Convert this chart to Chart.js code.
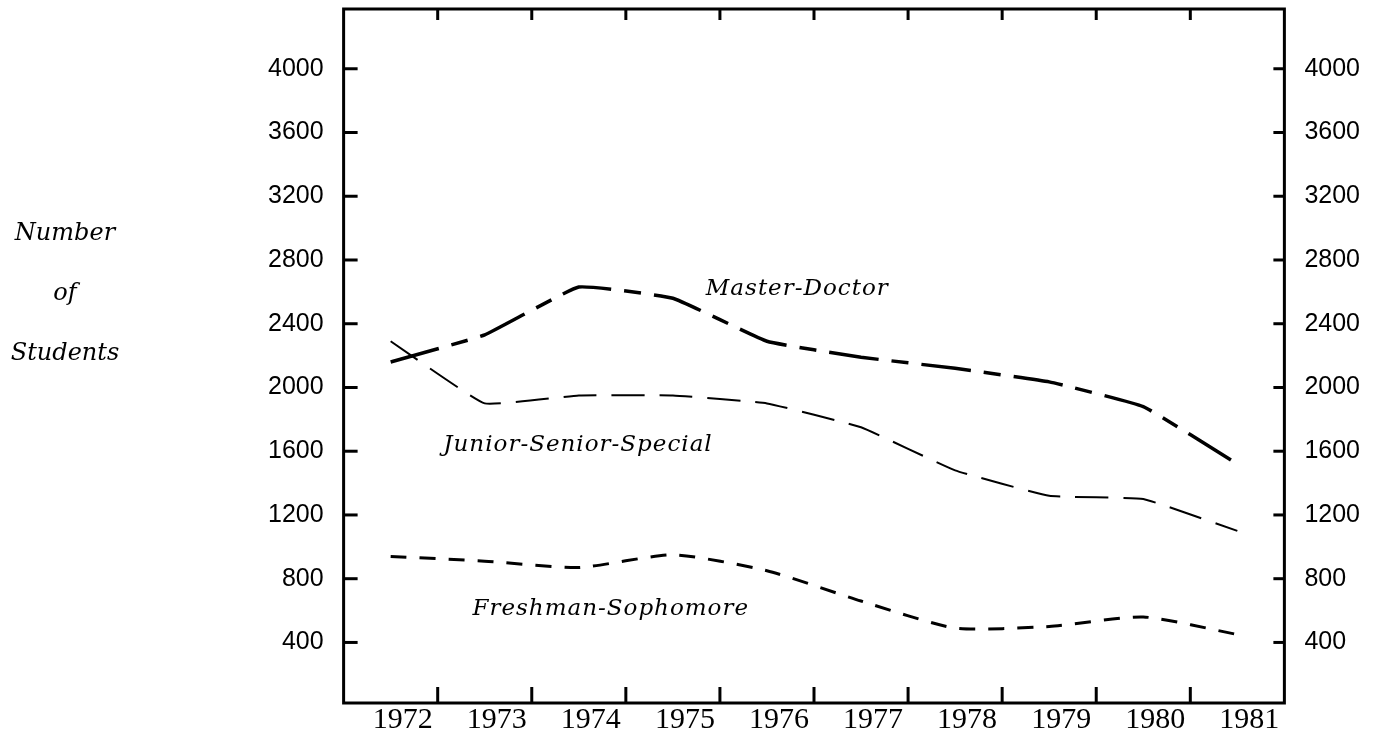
<!DOCTYPE html>
<html>
<head>
<meta charset="utf-8">
<script src="https://cdn.jsdelivr.net/npm/chart.js@4"></script>
<style>
  body { margin: 0; background: white; }
  #zone { width: 1390px; height: 733px; }
</style>
</head>
<body>
<div id="zone"><canvas id="myChart"></canvas></div>
<script>
// données
const years = ["1972", "1973", "1974", "1975", "1976", "1977", "1978", "1979", "1980", "1981"];
const masterDoctor = [2160, 2330, 2630, 2560, 2290, 2190, 2120, 2035, 1880, 1520];
const juniorSenior = [2290, 1900, 1950, 1950, 1900, 1750, 1480, 1320, 1300, 1100];
const freshman = [940, 910, 870, 950, 850, 660, 490, 500, 560, 450];
const yTicks = [400, 800, 1200, 1600, 2000, 2400, 2800, 3200, 3600, 4000];

// étiquettes posées dans le graphique : [texte, position x (index), valeur y]
const seriesLabels = [
  ["Master-Doctor", 3.35, 2620],
  ["Junior-Senior-Special", 0.56, 1640],
  ["Freshman-Sophomore", 0.87, 610],
];
const axisTitle = ["Number", "of", "Students"];

// cadre + petits traits vers l'intérieur
const cadre = {
  id: "cadre",
  afterDraw(chart) {
    const ctx = chart.ctx;
    const a = chart.chartArea;
    const sx = chart.scales.x;
    const sy = chart.scales.y;
    ctx.save();
    ctx.strokeStyle = "black";
    ctx.lineWidth = 3;
    ctx.strokeRect(a.left, a.top, a.width, a.height);

    function trait(x1, y1, x2, y2) {
      ctx.beginPath();
      ctx.moveTo(x1, y1);
      ctx.lineTo(x2, y2);
      ctx.stroke();
    }
    for (let i = 0; i < years.length - 1; i++) {
      const px = (sx.getPixelForValue(i) + sx.getPixelForValue(i + 1)) / 2;
      trait(px, a.bottom, px, a.bottom - 16); // bas
      trait(px, a.top, px, a.top + 11); // haut
    }
    sy.ticks.forEach(function (t) {
      const py = sy.getPixelForValue(t.value);
      trait(a.left, py, a.left + 14, py);
      trait(a.right, py, a.right - 11, py);
    });

    // noms des séries
    ctx.fillStyle = "black";
    ctx.font = 'italic 23px "DejaVu Serif"';
    ctx.letterSpacing = "1px";
    ctx.textAlign = "left";
    ctx.textBaseline = "middle";
    seriesLabels.forEach(function (l) {
      ctx.fillText(l[0], sx.getPixelForValue(l[1]), sy.getPixelForValue(l[2]));
    });

    // titre de l'axe (3 lignes, tout à gauche)
    ctx.font = 'italic 24px "DejaVu Serif"';
    ctx.letterSpacing = "0px";
    ctx.textAlign = "center";
    axisTitle.forEach(function (t, i) {
      ctx.fillText(t, 65, 234 + i * 60);
    });
    ctx.restore();
  },
};

function setTicks(scale) {
  scale.ticks = yTicks.map((v) => ({ value: v }));
}
// pas de marge automatique autour des axes
function noPadding(scale) {
  scale.paddingLeft = 0;
  scale.paddingRight = 0;
  scale.paddingTop = 0;
  scale.paddingBottom = 0;
}

const yAxis = {
  min: 20,
  max: 4375,
  afterBuildTicks: setTicks,
  afterFit: noPadding,
  grid: { display: false, drawTicks: false },
  border: { display: false },
  ticks: {
    padding: 20,
    color: "black",
    font: { family: '"Liberation Sans"', size: 25 },
    callback: (v) => String(v),
  },
};

const data = {
  labels: years,
  datasets: [
    {
      label: "Master-Doctor",
      data: masterDoctor,
      borderColor: "black",
      borderWidth: 3.5,
      borderDash: [50, 13, 17, 13],
      tension: 0.1,
    },
    {
      label: "Junior-Senior-Special",
      data: juniorSenior,
      borderColor: "black",
      borderWidth: 2,
      borderDash: [33, 15],
      tension: 0.1,
    },
    {
      label: "Freshman-Sophomore",
      data: freshman,
      borderColor: "black",
      borderWidth: 3,
      borderDash: [16, 13],
      tension: 0.2,
    },
  ],
};

const config = {
  type: "line",
  data: data,
  options: {
    responsive: true,
    maintainAspectRatio: false,
    animation: false,
    elements: { point: { radius: 0 } },
    layout: { padding: { left: 248, right: 10, top: 9, bottom: -5 } },
    plugins: { legend: { display: false }, tooltip: { enabled: false } },
    scales: {
      x: {
        type: "category",
        offset: true,
        afterFit: noPadding,
        grid: { display: false, drawTicks: false, offset: true },
        border: { display: false },
        ticks: {
          padding: 4,
          labelOffset: 12,
          maxRotation: 0,
          autoSkip: false,
          color: "black",
          font: { family: '"Liberation Serif"', size: 30, lineHeight: 0.9 },
        },
      },
      y: Object.assign({ position: "left" }, yAxis),
      y2: Object.assign({ position: "right" }, yAxis),
    },
  },
  plugins: [cadre],
};

let context = document.getElementById("myChart").getContext("2d");
let chart = new Chart(context, config);
</script>
</body>
</html>
